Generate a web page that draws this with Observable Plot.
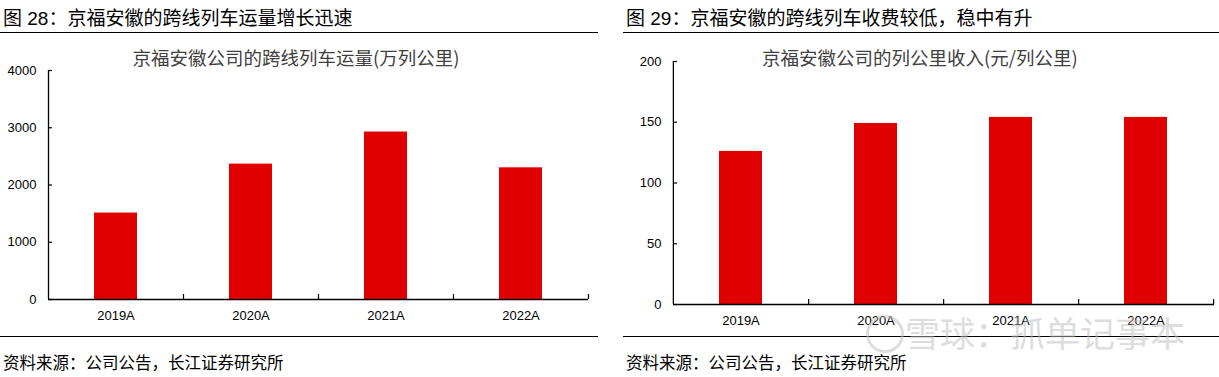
<!DOCTYPE html>
<html><head><meta charset="utf-8">
<script src="https://cdn.jsdelivr.net/npm/d3@7"></script>
<script src="https://cdn.jsdelivr.net/npm/@observablehq/plot@0.6"></script>
<style>
body{margin:0;background:#fff;width:1219px;height:377px;position:relative;overflow:hidden;font-family:"Liberation Sans",Arial,sans-serif;}
.abs{position:absolute;white-space:nowrap;}
.ptitle{font-family:"Liberation Sans","Noto Sans CJK SC",sans-serif;font-size:19px;color:#000;line-height:22px;}
.ctitle{font-family:"Noto Sans CJK SC","Noto Sans",sans-serif;font-size:18.5px;color:#404040;line-height:22px;transform:translateX(-50%);}
.src{font-family:"Noto Sans CJK SC","Noto Sans",sans-serif;font-size:16.5px;color:#000;line-height:20px;}
.rule{position:absolute;height:0;border-top:1.5px solid #000;}
.wm{font-family:"Noto Sans CJK SC",sans-serif;font-size:35px;color:#bdbdbd;opacity:0.5;line-height:40px;}
.wmlogo{position:absolute;width:32px;height:32px;border:3px solid #bdbdbd;border-radius:50%;opacity:0.5;}
</style></head>
<body>
<div id="root"></div>
<script>
const categories = ["2019A", "2020A", "2021A", "2022A"];
const volume = [1510, 2365, 2925, 2300];        // 万列公里
const revenue = [126, 149, 154, 154];           // 元/列公里
const volumeTicks = [0, 1000, 2000, 3000, 4000];
const revenueTicks = [0, 50, 100, 150, 200];
const titles = ["图 28：京福安徽的跨线列车运量增长迅速", "图 29：京福安徽的跨线列车收费较低，稳中有升"];
const chartTitles = ["京福安徽公司的跨线列车运量(万列公里)", "京福安徽公司的列公里收入(元/列公里)"];
const sourceText = "资料来源：公司公告，长江证券研究所";
const watermark = "雪球：抓单记事本";

const RED = "#e00000";

function makeChart({values, ticks, domain, width, height, mt, mb, ml, mr, labelGap}) {
  const data = categories.map((c, i) => ({cat: c, v: values[i]}));
  const step = (width - ml - mr) / categories.length;
  const innerH = height - mt - mb;
  return Plot.plot({
    width, height,
    marginTop: mt, marginBottom: mb, marginLeft: ml, marginRight: mr,
    style: {fontFamily: '"Liberation Sans", Arial, sans-serif', fontSize: "13px", color: "#000", background: "transparent", overflow: "visible"},
    x: {domain: categories, paddingInner: 0.68, paddingOuter: 0.34, label: null},
    y: {domain, label: null},
    marks: [
      Plot.barY(data, {x: "cat", y: "v", fill: RED}),
      Plot.axisY({ticks, tickSize: -4, tickPadding: labelGap + 4, tickFormat: d => String(d), stroke: "#000", strokeWidth: 1.2, label: null}),
      Plot.axisX({tickSize: 0, tickPadding: 11, label: null}),
      // y-axis line at the left edge of the first band step
      Plot.tickX([categories[0]], {x: d => d, dx: -step / 2, stroke: "#000", strokeWidth: 1.3}),
      // x-axis baseline
      Plot.ruleY([domain[0]], {stroke: "#000", strokeWidth: 1.3}),
      // boundary ticks between categories (pointing up, inside)
      Plot.tickX(categories, {x: d => d, dx: step / 2, insetTop: innerH - 5, stroke: "#000", strokeWidth: 1.2})
    ]
  });
}

const root = document.getElementById("root");
function addDiv(cls, text, style) {
  const d = document.createElement("div");
  d.className = cls;
  if (text != null) d.textContent = text;
  Object.assign(d.style, style);
  root.appendChild(d);
  return d;
}

// Left panel
addDiv("abs ptitle", titles[0], {left: "3px", top: "8px"});
addDiv("rule", null, {left: "0px", top: "32px", width: "598px"});
addDiv("abs ctitle", chartTitles[0], {left: "296px", top: "46px"});
const left = makeChart({values: volume, ticks: volumeTicks, domain: [0, 4000], width: 600, height: 300, mt: 30, mb: 41, ml: 48, mr: 12, labelGap: 12});
const lw = addDiv("abs", null, {left: "0px", top: "40px"});
lw.appendChild(left);
addDiv("rule", null, {left: "0px", top: "336px", width: "598px"});
addDiv("abs src", sourceText, {left: "3px", top: "352px"});

// Right panel
addDiv("abs ptitle", titles[1], {left: "626px", top: "8px"});
addDiv("rule", null, {left: "623px", top: "32px", width: "596px"});
addDiv("abs ctitle", chartTitles[1], {left: "920px", top: "46px"});
const right = makeChart({values: revenue, ticks: revenueTicks, domain: [0, 200], width: 609, height: 300, mt: 31, mb: 26, ml: 63, mr: 5, labelGap: 12});
const rw = addDiv("abs", null, {left: "610px", top: "30px"});
rw.appendChild(right);
addDiv("rule", null, {left: "623px", top: "336px", width: "596px"});
addDiv("abs src", sourceText, {left: "626px", top: "352px"});

// Watermark
addDiv("wmlogo", null, {left: "866px", top: "315px"});
addDiv("abs wm", watermark, {left: "905px", top: "312px"});
</script>
</body></html>
